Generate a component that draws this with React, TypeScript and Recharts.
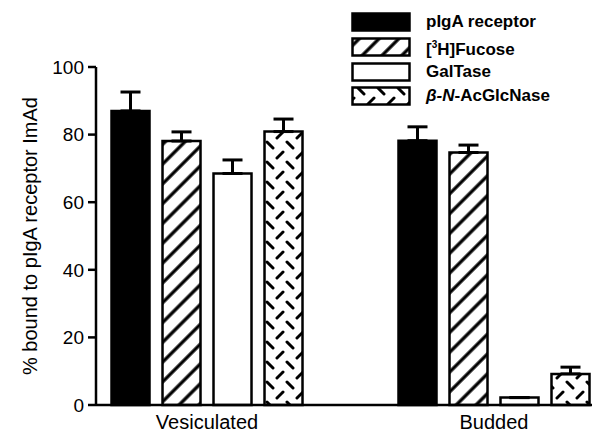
import React from 'react'
import { BarChart, Bar, XAxis, YAxis, ErrorBar } from 'recharts'

// fractions: vesiculated vs budded
const groups = ['Vesiculated', 'Budded']
const pIgA = [87, 78.2]
const pIgAErr = [5.6, 4.1]
const fucose = [78.1, 74.7]
const fucoseErr = [2.7, 2.2]
const galTase = [68.5, 2.2]
const galTaseErr = [4.0, 0]
const acGlc = [80.9, 9.2]
const acGlcErr = [3.7, 2.0]
const yTicks = [0, 20, 40, 60, 80, 100]

const data = groups.map((g, i) => ({
  x: i,
  name: g,
  pIgA: pIgA[i], pIgAErr: [0, pIgAErr[i]],
  fucose: fucose[i], fucoseErr: [0, fucoseErr[i]],
  galTase: galTase[i], galTaseErr: [0, galTaseErr[i]],
  acGlc: acGlc[i], acGlcErr: [0, acGlcErr[i]],
}))

const FONT = '"Liberation Sans", Arial, Helvetica, sans-serif'

const series = [
  { key: 'pIgA', label: <>pIgA receptor</>, fill: '#000' },
  { key: 'fucose', label: <>[<sup style={{ fontSize: 10 }}>3</sup>H]Fucose</>, fill: 'url(#hatch)' },
  { key: 'galTase', label: <>GalTase</>, fill: '#fff' },
  { key: 'acGlc', label: <><i>β-N</i>-AcGlcNase</>, fill: 'url(#dashes)' },
]

function LegendBox() {
  return (
    <div style={{ position: 'absolute', top: 10, left: 351, fontFamily: FONT, fontWeight: 700, fontSize: 17, color: '#000' }}>
      {series.map(s => (
        <div key={s.key} style={{ display: 'flex', alignItems: 'center', height: 24.7 }}>
          <svg width={60} height={20} style={{ display: 'block' }}>
            <rect x={1.5} y={1.5} width={57} height={17} fill={s.fill} stroke="#000" strokeWidth={2.5} />
          </svg>
          <span style={{ marginLeft: 15, lineHeight: '20px' }}>{s.label}</span>
        </div>
      ))}
    </div>
  )
}

const yLabel = () => (
  <text x={30} y={236} transform="rotate(-90 30 236)" textAnchor="middle" dominantBaseline="central"
    style={{ fontFamily: FONT, fontSize: 20, fill: '#000' }}>
    % bound to pIgA receptor ImAd
  </text>
)

export default function App() {
  return (
    <div style={{ position: 'absolute', left: 0, top: 0, width: 592, height: 433, background: '#fff', overflow: 'hidden' }}>
      <BarChart width={592} height={433} data={data} barGap={13} margin={{ top: 67, right: 0, left: 0, bottom: 0 }}>
        <defs>
          <pattern id="hatch" patternUnits="userSpaceOnUse" width={14} height={14} patternTransform="rotate(45)">
            <rect width={14} height={14} fill="#fff" />
            <line x1={7} y1={0} x2={7} y2={14} stroke="#000" strokeWidth={3.3} />
          </pattern>
          <pattern id="dashes" patternUnits="userSpaceOnUse" width={20} height={20}>
            <rect width={20} height={20} fill="#fff" />
            <line x1={7} y1={2} x2={13} y2={8} stroke="#000" strokeWidth={3} strokeLinecap="round" />
            <line x1={-3} y1={18} x2={3} y2={12} stroke="#000" strokeWidth={3} strokeLinecap="round" />
            <line x1={17} y1={18} x2={23} y2={12} stroke="#000" strokeWidth={3} strokeLinecap="round" />
          </pattern>
        </defs>
        <XAxis
          dataKey="x"
          type="number"
          domain={[-0.3868, 1.3415]}
          ticks={[0, 1]}
          tickFormatter={(v: number) => groups[v] ?? ''}
          height={28}
          tickLine={false}
          tickSize={8}
          tickMargin={2}
          axisLine={{ stroke: '#000', strokeWidth: 2.5 }}
          tick={{ fill: '#000', fontSize: 20, fontFamily: FONT }}
          interval={0}
        />
        <YAxis
          domain={[0, 100]}
          ticks={yTicks}
          width={96}
          tickSize={8}
          tickMargin={4}
          axisLine={{ stroke: '#000', strokeWidth: 2.5 }}
          tickLine={{ stroke: '#000', strokeWidth: 2.5 }}
          tick={{ fill: '#000', fontSize: 19, fontFamily: FONT }}
          label={{ content: yLabel }}
        />
        {series.map(s => (
          <Bar key={s.key} dataKey={s.key} barSize={38} fill={s.fill} stroke="#000" strokeWidth={2.5} isAnimationActive={false}>
            <ErrorBar dataKey={`${s.key}Err`} width={10} stroke="#000" strokeWidth={3} direction="y" />
          </Bar>
        ))}
      </BarChart>
      <LegendBox />
    </div>
  )
}
